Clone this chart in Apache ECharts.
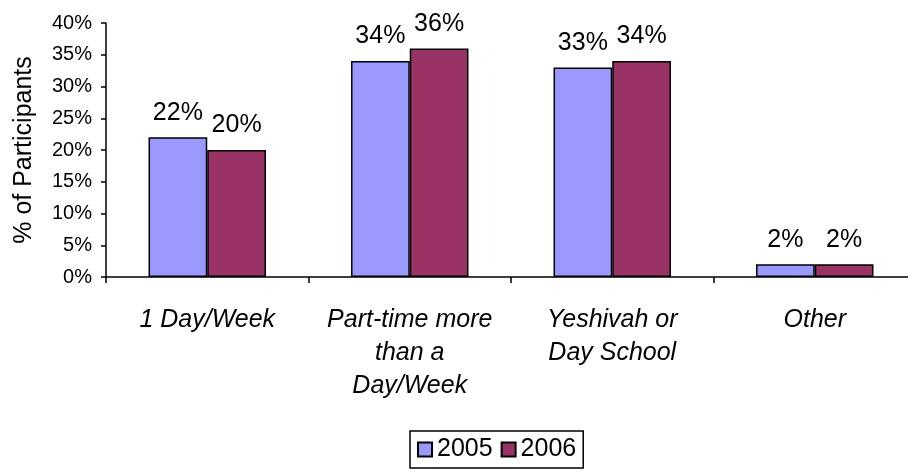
<!DOCTYPE html>
<html>
<head>
<meta charset="utf-8">
<script src="https://cdn.jsdelivr.net/npm/echarts@6/dist/echarts.min.js"></script>
<style>
html,body{margin:0;padding:0;background:#fff;}
#chart{width:908px;height:472px;}
</style>
</head>
<body>
<div id="chart"></div>
<script>
const categories = ['1 Day/Week', 'Part-time more\nthan a\nDay/Week', 'Yeshivah or\nDay School', 'Other'];
const values2005 = [22, 34, 33, 2];
const values2006 = [20, 36, 34, 2];
const seriesNames = ['2005', '2006'];
const yTicks = { min: 0, max: 40, interval: 5 };

const FONT = '"Liberation Sans", Arial, sans-serif';
const chart = echarts.init(document.getElementById('chart'), null, { renderer: 'canvas' });

const labelCfg = {
  show: true, position: 'top', distance: 12,
  formatter: '{c}%', fontSize: 25, color: '#000', fontFamily: FONT
};
const itemBorder = { borderColor: '#000', borderWidth: 1.5 };

chart.setOption({
  animation: false,
  backgroundColor: '#fff',
  textStyle: { fontFamily: FONT },
  grid: { left: 106, top: 23, width: 810, bottom: 195, containLabel: false, outerBoundsMode: 'none' },
  legend: {
    top: 431,
    left: 410,
    orient: 'horizontal',
    data: seriesNames,
    itemWidth: 14,
    itemHeight: 14,
    itemGap: 8,
    padding: [6, 7, 6, 7],
    borderColor: '#000',
    borderWidth: 1.5,
    icon: 'rect',
    textStyle: { fontSize: 25, color: '#000', fontFamily: FONT }
  },
  xAxis: {
    type: 'category',
    data: categories,
    axisLine: { show: true, lineStyle: { color: '#000', width: 1.5 } },
    axisTick: { show: true, length: 6, lineStyle: { color: '#000', width: 1.5 }, alignWithLabel: false },
    axisLabel: {
      fontSize: 25, fontStyle: 'italic', color: '#000', fontFamily: FONT,
      lineHeight: 33, margin: 27, interval: 0
    }
  },
  yAxis: {
    type: 'value',
    min: yTicks.min, max: yTicks.max, interval: yTicks.interval,
    name: '% of Participants',
    nameLocation: 'middle',
    nameRotate: 90,
    nameGap: 69,
    nameTextStyle: { fontSize: 25, color: '#000', fontFamily: FONT },
    axisLine: { show: true, lineStyle: { color: '#000', width: 1.5 } },
    axisTick: { show: true, length: 5, lineStyle: { color: '#000', width: 1.5 } },
    splitLine: { show: false },
    axisLabel: { formatter: '{value}%', fontSize: 20, color: '#000', fontFamily: FONT, margin: 14 }
  },
  series: [
    {
      name: seriesNames[0], type: 'bar', data: values2005,
      barGap: '0%', barCategoryGap: '42%',
      itemStyle: Object.assign({ color: '#9999FF' }, itemBorder),
      label: labelCfg
    },
    {
      name: seriesNames[1], type: 'bar', data: values2006,
      barGap: '0%', barCategoryGap: '42%',
      itemStyle: Object.assign({ color: '#993366' }, itemBorder),
      label: labelCfg
    }
  ]
});
</script>
</body>
</html>
